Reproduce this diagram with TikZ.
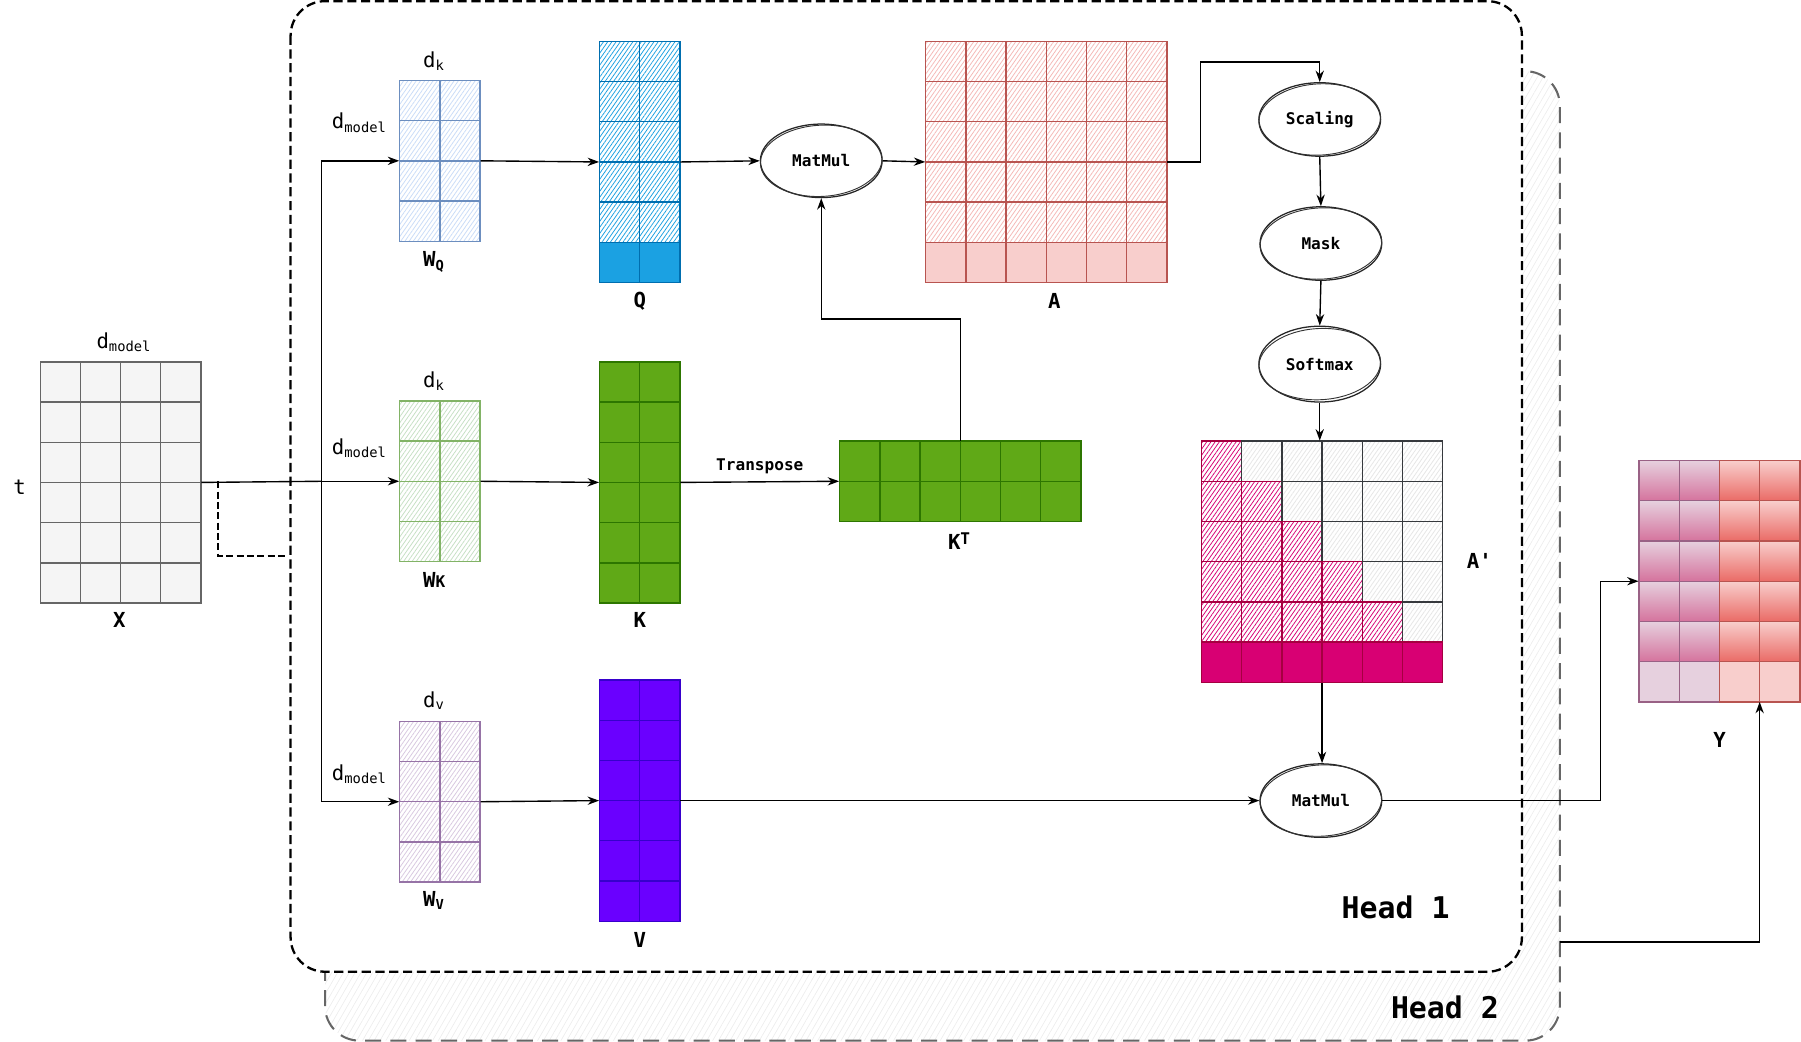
\documentclass[tikz,border=0pt]{standalone}
\usepackage{fontspec}
\setmainfont{DejaVu Sans Mono}[Ligatures=TeXOff]
\usetikzlibrary{arrows.meta,patterns.meta,shapes.geometric,fit,calc}
\definecolor{xfill}{HTML}{F5F5F5}\definecolor{xdraw}{HTML}{666666}
\definecolor{wqfill}{HTML}{C9DCF8}\definecolor{wqdraw}{HTML}{6C8EBF}
\definecolor{wkfill}{HTML}{C6E0C4}\definecolor{wkdraw}{HTML}{82B366}
\definecolor{wvfill}{HTML}{D8C8E0}\definecolor{wvdraw}{HTML}{9673A6}
\definecolor{qfill}{HTML}{1BA1E2}\definecolor{qdraw}{HTML}{006EAF}
\definecolor{kfill}{HTML}{60A917}\definecolor{kdraw}{HTML}{2D7600}
\definecolor{vfill}{HTML}{6A00FF}\definecolor{vdraw}{HTML}{3700CC}
\definecolor{afill}{HTML}{F8CECC}\definecolor{adraw}{HTML}{B85450}
\definecolor{ahatch}{HTML}{F5B8B6}
\definecolor{apfill}{HTML}{D80073}\definecolor{apdraw}{HTML}{A50040}
\definecolor{gdraw}{HTML}{36393D}\definecolor{ghatch}{HTML}{E6E6E6}
\definecolor{ypt}{HTML}{E6D0DE}\definecolor{ypb}{HTML}{D5739D}\definecolor{ypd}{HTML}{996185}
\definecolor{yrt}{HTML}{F8CECC}\definecolor{yrb}{HTML}{EA6B66}
\begin{document}
\begin{tikzpicture}[x=0.5pt,y=-0.5pt,
  hatchcell/.style={line width=0.6pt, pattern={Lines[angle=55,distance=1.5pt,line width=0.33pt]}},
  solidcell/.style={line width=0.6pt},
  arr/.style={-{Stealth[length=5pt,width=3.6pt]}, line width=0.6pt},
  ell/.style={ellipse, draw=black!85, line width=0.55pt, minimum width=53pt, minimum height=32pt, inner sep=0pt, font=\bfseries\fontsize{7}{8}\selectfont},
  box/.style={inner sep=0pt, fit={#1}},
  lbl/.style={font=\bfseries\fontsize{9}{10}\selectfont, inner sep=1pt},
  dim/.style={font=\fontsize{9}{10}\selectfont, inner sep=1pt},
  headlbl/.style={font=\bfseries\fontsize{13}{14}\selectfont, inner sep=1pt}]
\useasboundingbox (0,0) rectangle (1568,907);
% Head 2 (behind)
\draw[draw=xdraw, line width=0.9pt, dash pattern=on 7pt off 4pt, rounded corners=15pt,
  pattern={Lines[angle=60,distance=2.2pt,line width=0.3pt]}, pattern color=black!7]
  (283,62) rectangle (1358,906);
% Head 1
\draw[draw=black, fill=white, line width=1pt, dash pattern=on 4pt off 2pt, rounded corners=15pt]
  (253,1) rectangle (1325,846);
\node[headlbl] (h1) at (1215,790) {Head 1};
\node[headlbl] (h2) at (1258,877) {Head 2};

% X
\foreach \i in {0,...,3}\foreach \j in {0,...,5}
  \draw[solidcell, fill=xfill, draw=xdraw] ({35+35*\i},{315+35*\j}) rectangle ++(35,35);
\node[box={(35,315)(175,525)}] (X) {};
\node[lbl] (Xl) at (104,540) {X};
\node[dim] (Xd) at (108,298) {d\textsubscript{model}};
\node[dim] (Xt) at (17,424) {t};

% W_Q
\foreach \i in {0,1}\foreach \j in {0,...,3}
  \draw[hatchcell, pattern color=wqfill, draw=wqdraw] ({348+35*\i},{70+35*\j}) rectangle ++(35,35);
\node[box={(348,70)(418,210)}] (WQ) {};
\node[lbl] (WQl) at (378,228) {W\textsubscript{Q}};
\node[dim] (WQk) at (378,53) {d\textsubscript{k}};
\node[dim] (WQm) at (313,107) {d\textsubscript{model}};

% W_K
\foreach \i in {0,1}\foreach \j in {0,...,3}
  \draw[hatchcell, pattern color=wkfill, draw=wkdraw] ({348+35*\i},{349+35*\j}) rectangle ++(35,35);
\node[box={(348,349)(418,489)}] (WK) {};
\node[lbl] (WKl) at (378,505) {W{\fontsize{7}{8}\selectfont K}};
\node[dim] (WKk) at (378,332) {d\textsubscript{k}};
\node[dim] (WKm) at (313,390) {d\textsubscript{model}};

% W_V
\foreach \i in {0,1}\foreach \j in {0,...,3}
  \draw[hatchcell, pattern color=wvfill, draw=wvdraw] ({348+35*\i},{628+35*\j}) rectangle ++(35,35);
\node[box={(348,628)(418,768)}] (WV) {};
\node[lbl] (WVl) at (378,784) {W\textsubscript{V}};
\node[dim] (WVv) at (378,610) {d\textsubscript{v}};
\node[dim] (WVm) at (313,674) {d\textsubscript{model}};

% Q
\foreach \i in {0,1}{
  \foreach \j in {0,...,4}
    \draw[hatchcell, pattern color=qfill, draw=qdraw] ({522+35*\i},{36+35*\j}) rectangle ++(35,35);
  \draw[solidcell, fill=qfill, draw=qdraw] ({522+35*\i},211) rectangle ++(35,35);}
\node[box={(522,36)(592,246)}] (Q) {};
\node[lbl] (Ql) at (557,262) {Q};

% K
\foreach \i in {0,1}\foreach \j in {0,...,5}
  \draw[solidcell, fill=kfill, draw=kdraw] ({522+35*\i},{315+35*\j}) rectangle ++(35,35);
\node[box={(522,315)(592,525)}] (K) {};
\node[lbl] (Kl) at (557,540) {K};

% V
\foreach \i in {0,1}\foreach \j in {0,...,5}
  \draw[solidcell, fill=vfill, draw=vdraw] ({522+35*\i},{592+35*\j}) rectangle ++(35,35);
\node[box={(522,592)(592,802)}] (V) {};
\node[lbl] (Vl) at (557,818) {V};

% K^T
\foreach \i in {0,...,5}\foreach \j in {0,1}
  \draw[solidcell, fill=kfill, draw=kdraw] ({731+35*\i},{384+35*\j}) rectangle ++(35,35);
\node[box={(731,384)(941,454)}] (KT) {};
\node[lbl] (KTl) at (835,471) {K\raisebox{0.5ex}{\fontsize{7}{8}\selectfont T}};

% A
\foreach \i in {0,...,5}{
  \foreach \j in {0,...,4}
    \draw[hatchcell, pattern color=ahatch, draw=adraw] ({806+35*\i},{36+35*\j}) rectangle ++(35,35);
  \draw[solidcell, fill=afill, draw=adraw] ({806+35*\i},211) rectangle ++(35,35);}
\node[box={(806,36)(1016,246)}] (A) {};
\node[lbl] (Al) at (918,262) {A};

% A'
\foreach \j in {0,...,4}\foreach \i in {0,...,5}{
  \ifnum\i>\j
    \draw[hatchcell, pattern color=ghatch, draw=gdraw] ({1046+35*\i},{384+35*\j}) rectangle ++(35,35);
  \else
    \draw[hatchcell, pattern color=apfill, draw=apdraw] ({1046+35*\i},{384+35*\j}) rectangle ++(35,35);
  \fi}
\foreach \i in {0,...,5}
  \draw[solidcell, fill=apfill, draw=apdraw] ({1046+35*\i},559) rectangle ++(35,35);
\node[box={(1046,384)(1256,594)}] (Ap) {};
\node[lbl] (Apl) at (1288,488) {A'};

% Y
\foreach \i in {0,1}{
  \foreach \j in {0,...,4}
    \draw[solidcell, top color=ypt, bottom color=ypb, draw=ypd] ({1427+35*\i},{401+35*\j}) rectangle ++(35,35);
  \draw[solidcell, fill=ypt, draw=ypd] ({1427+35*\i},576) rectangle ++(35,35);}
\foreach \i in {2,3}{
  \foreach \j in {0,...,4}
    \draw[solidcell, top color=yrt, bottom color=yrb, draw=adraw] ({1427+35*\i},{401+35*\j}) rectangle ++(35,35);
  \draw[solidcell, fill=yrt, draw=adraw] ({1427+35*\i},576) rectangle ++(35,35);}
\node[box={(1427,401)(1567,611)}] (Y) {};
\node[lbl] (Yl) at (1497,644) {Y};
\coordinate (Yin) at (1532,611);

% operations
\node[ell] (mm1) at (715,140) {MatMul};
\node[ell] (sc) at (1149,104) {Scaling};
\node[ell] (mk) at (1150,212) {Mask};
\node[ell, minimum height=33pt] (sm) at (1149,317) {Softmax};
\node[ell] (mm2) at (1150,697) {MatMul};
\foreach \n in {mm1,sc,mk,sm,mm2}
  \draw[black!80, line width=0.4pt, rotate around={3:(\n.center)}] (\n.center) ellipse (26.5pt and 15.5pt);

% connectors
\coordinate (split) at (280,419);
\draw[line width=0.6pt] (X.east) -- (split);
\draw[arr] (split) -- (WK.west);
\draw[arr] (split) |- (WQ.west);
\draw[arr] (split) |- (WV.west);
\draw[line width=1.1pt, dash pattern=on 3pt off 1.5pt] (190,419) -- (190,484) -- (250,484);
\draw[arr] (WQ.east) -- (Q.west);
\draw[arr] (WK.east) -- (K.west);
\draw[arr] (WV.east) -- (V.west);
\draw[arr] (Q.east) -- (mm1.west);
\draw[arr] (mm1.east) -- (A.west);
\draw[arr] (K.east) -- node[above, font=\bfseries\fontsize{7}{8}\selectfont, inner sep=3pt] (tr) {Transpose} (KT.west);
\draw[arr] (KT.north) -- ++(0,-106) -| (mm1.south);
\draw[arr] (A.east) -- ++(29,0) -- ++(0,-87) -| (sc.north);
\draw[arr] (sc.south) -- (mk.north);
\draw[arr] (mk.south) -- (sm.north);
\draw[arr] (sm.south) -- (sm.south |- Ap.north);
\draw[arr] (Ap.south) -- (Ap.south |- mm2.north);
\draw[arr] (V.east) -- (mm2.west);
\draw[arr] (mm2.east) -- ++(190,0) |- (Y.west);
\coordinate (h2r) at (1358,820);
\draw[arr] (h2r) -| (Yin);
\end{tikzpicture}
\end{document}
